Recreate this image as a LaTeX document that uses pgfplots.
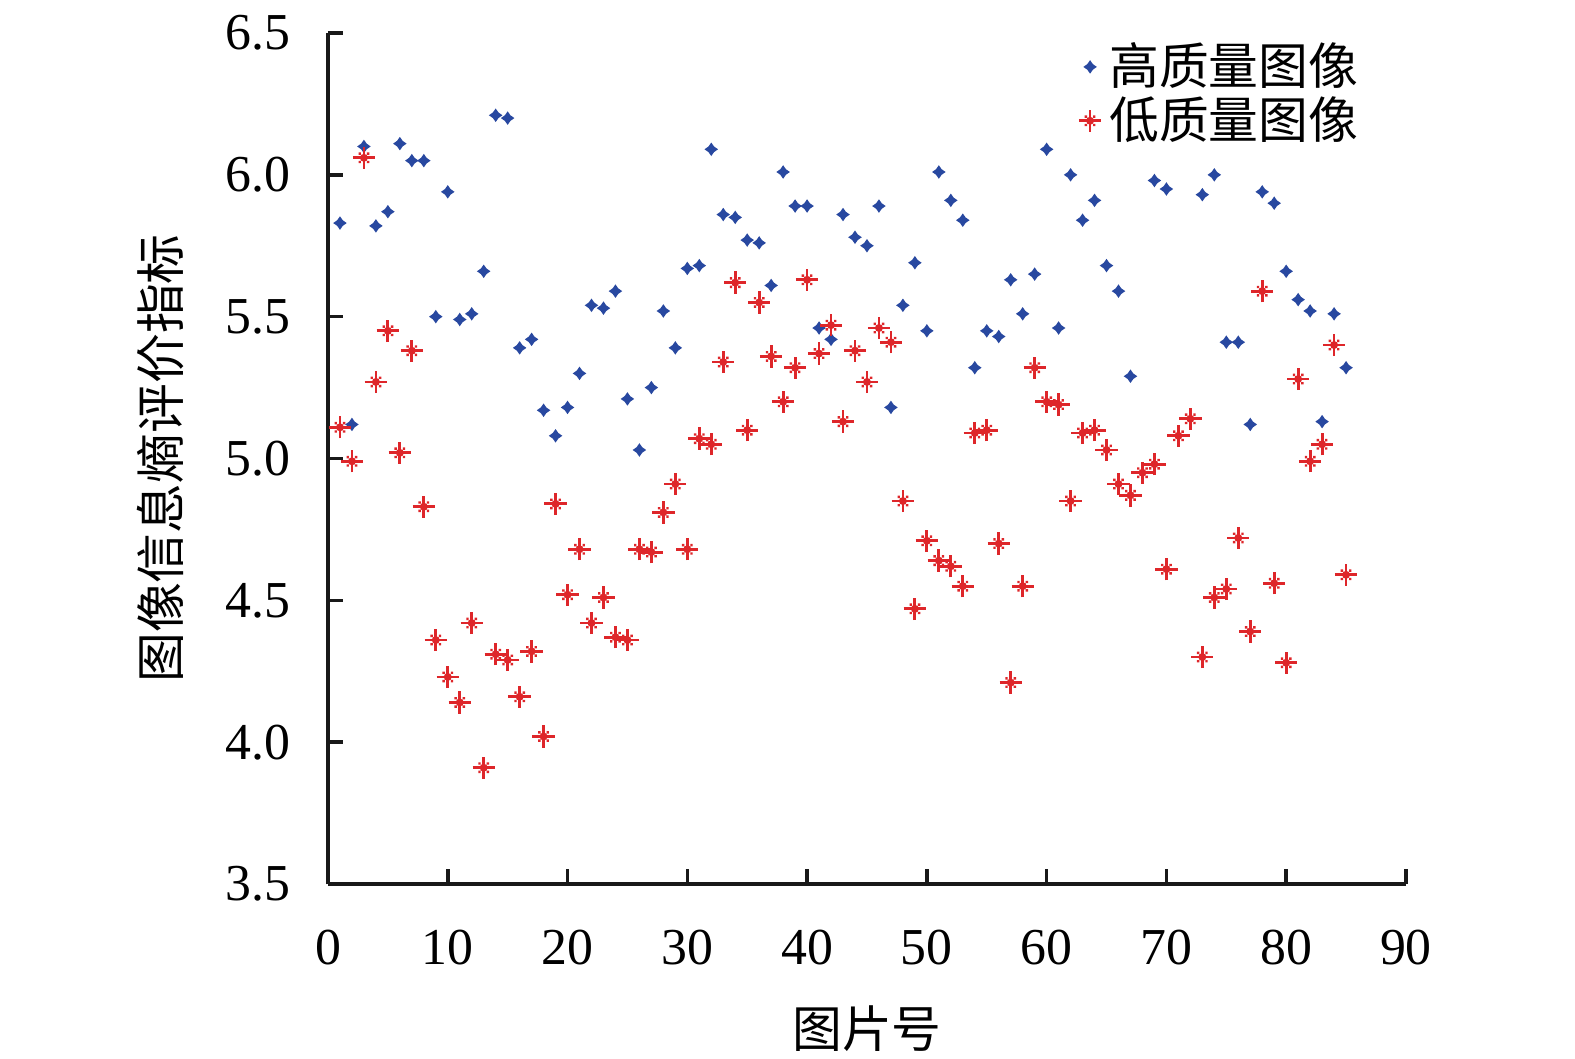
\documentclass[border=0pt]{standalone}
\usepackage{pgfplots}
\pgfplotsset{compat=1.18}
\usepackage{fontspec}
\setmainfont{Liberation Serif}
\newfontfamily\cjk{Noto Sans CJK SC}
\definecolor{bluem}{RGB}{40,72,160}
\definecolor{redm}{RGB}{222,38,42}
\pgfdeclareplotmark{bstar}{%
  \pgfpathmoveto{\pgfpoint{0pt}{1.7pt}}%
  \pgfpathlineto{\pgfpoint{0.7pt}{0.7pt}}%
  \pgfpathlineto{\pgfpoint{1.7pt}{0pt}}%
  \pgfpathlineto{\pgfpoint{0.7pt}{-0.7pt}}%
  \pgfpathlineto{\pgfpoint{0pt}{-1.7pt}}%
  \pgfpathlineto{\pgfpoint{-0.7pt}{-0.7pt}}%
  \pgfpathlineto{\pgfpoint{-1.7pt}{0pt}}%
  \pgfpathlineto{\pgfpoint{-0.7pt}{0.7pt}}%
  \pgfpathclose
  \pgfusepathqfill}
\pgfdeclareplotmark{rstar}{%
  \pgfsetlinewidth{0.7pt}%
  \pgfpathmoveto{\pgfpoint{-2.8pt}{0pt}}%
  \pgfpathlineto{\pgfpoint{2.8pt}{0pt}}%
  \pgfpathmoveto{\pgfpoint{0pt}{-2.8pt}}%
  \pgfpathlineto{\pgfpoint{0pt}{2.8pt}}%
  \pgfusepathqstroke
  \pgfpathcircle{\pgfpoint{0pt}{0pt}}{1.0pt}%
  \pgfpathrectangle{\pgfpoint{0.75pt}{0.75pt}}{\pgfpoint{0.6pt}{0.6pt}}%
  \pgfpathrectangle{\pgfpoint{-1.35pt}{0.75pt}}{\pgfpoint{0.6pt}{0.6pt}}%
  \pgfpathrectangle{\pgfpoint{0.75pt}{-1.35pt}}{\pgfpoint{0.6pt}{0.6pt}}%
  \pgfpathrectangle{\pgfpoint{-1.35pt}{-1.35pt}}{\pgfpoint{0.6pt}{0.6pt}}%
  \pgfusepathqfill}
\pgfplotstableread{
x y
1 5.83
2 5.12
3 6.10
4 5.82
5 5.87
6 6.11
7 6.05
8 6.05
9 5.50
10 5.94
11 5.49
12 5.51
13 5.66
14 6.21
15 6.20
16 5.39
17 5.42
18 5.17
19 5.08
20 5.18
21 5.30
22 5.54
23 5.53
24 5.59
25 5.21
26 5.03
27 5.25
28 5.52
29 5.39
30 5.67
31 5.68
32 6.09
33 5.86
34 5.85
35 5.77
36 5.76
37 5.61
38 6.01
39 5.89
40 5.89
41 5.46
42 5.42
43 5.86
44 5.78
45 5.75
46 5.89
47 5.18
48 5.54
49 5.69
50 5.45
51 6.01
52 5.91
53 5.84
54 5.32
55 5.45
56 5.43
57 5.63
58 5.51
59 5.65
60 6.09
61 5.46
62 6.00
63 5.84
64 5.91
65 5.68
66 5.59
67 5.29
69 5.98
70 5.95
73 5.93
74 6.00
75 5.41
76 5.41
77 5.12
78 5.94
79 5.90
80 5.66
81 5.56
82 5.52
83 5.13
84 5.51
85 5.32
}\highq
\pgfplotstableread{
x y
1 5.11
2 4.99
3 6.06
4 5.27
5 5.45
6 5.02
7 5.38
8 4.83
9 4.36
10 4.23
11 4.14
12 4.42
13 3.91
14 4.31
15 4.29
16 4.16
17 4.32
18 4.02
19 4.84
20 4.52
21 4.68
22 4.42
23 4.51
24 4.37
25 4.36
26 4.68
27 4.67
28 4.81
29 4.91
30 4.68
31 5.07
32 5.05
33 5.34
34 5.62
35 5.10
36 5.55
37 5.36
38 5.20
39 5.32
40 5.63
41 5.37
42 5.47
43 5.13
44 5.38
45 5.27
46 5.46
47 5.41
48 4.85
49 4.47
50 4.71
51 4.64
52 4.62
53 4.55
54 5.09
55 5.10
56 4.70
57 4.21
58 4.55
59 5.32
60 5.20
61 5.19
62 4.85
63 5.09
64 5.10
65 5.03
66 4.91
67 4.87
68 4.95
69 4.98
70 4.61
71 5.08
72 5.14
73 4.30
74 4.51
75 4.54
76 4.72
77 4.39
78 5.59
79 4.56
80 4.28
81 5.28
82 4.99
83 5.05
84 5.40
85 4.59
}\lowq
\begin{document}
\begin{tikzpicture}
\useasboundingbox (-82bp,-43.75bp) rectangle (311.75bp,221bp);
\begin{axis}[
  scale only axis,
  width=269.5bp, height=212.75bp,
  xmin=0, xmax=90, ymin=3.5, ymax=6.5,
  xtick={0,10,...,90},
  ytick={3.5,4.0,...,6.5},
  yticklabel style={/pgf/number format/fixed, /pgf/number format/fixed zerofill, /pgf/number format/precision=1, xshift=-6pt},
  /pgf/number format/assume math mode=true,
  axis lines*=left,
  axis line style={line width=0.9pt, color=black!90},
  every tick/.style={line width=0.9pt, color=black!90},
  tick align=inside,
  major tick length=3.75pt,
  tick label style={font=\fontsize{13}{13}\selectfont},
  xticklabel style={yshift=-8pt},
  xlabel={\cjk 图片号},
  ylabel={\cjk 图像信息熵评价指标},
  label style={font=\fontsize{12.5}{13}\selectfont},
  xlabel style={at={(axis description cs:0.5,-0.17)}, anchor=center},
  ylabel style={at={(axis description cs:-0.155,0.5)}, anchor=center},
  legend style={draw=none, fill=none, at={(axis description cs:0.975,1.008)}, anchor=north east,
    font=\fontsize{12.5}{13}\selectfont\cjk, row sep=-2.5pt,
    nodes={inner xsep=2pt}},
  legend cell align=left,
  legend image code/.code={\path[draw=none,fill=none] (0cm,0cm) rectangle (0.3cm+1.3pt,0cm); \draw[#1] plot coordinates {(0.3cm,0cm)};},
  clip=false,
]
\addplot[only marks, mark=bstar, color=bluem] table {\highq};
\addlegendentry{高质量图像}
\addplot[only marks, mark=rstar, color=redm] table {\lowq};
\addlegendentry{低质量图像}
\end{axis}
\end{tikzpicture}
\end{document}
